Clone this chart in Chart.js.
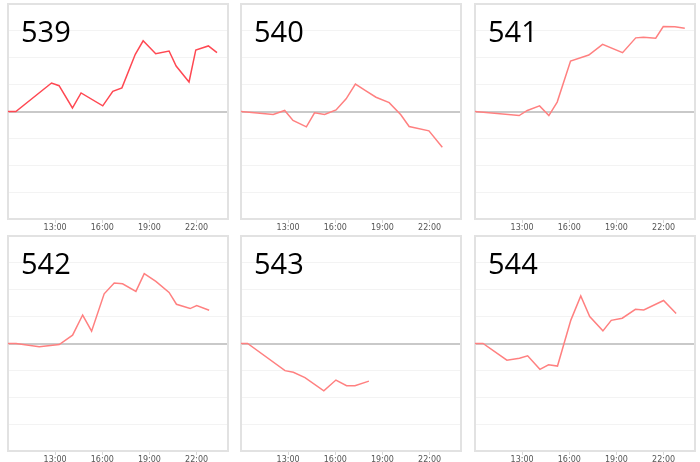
<!DOCTYPE html>
<html>
<head>
<meta charset="utf-8">
<script src="https://cdn.jsdelivr.net/npm/chart.js@4.4.0/dist/chart.umd.min.js"></script>
<style>
  body { margin: 0; background: #fff; width: 700px; height: 462px; position: relative; overflow: hidden; }
  .panel { position: absolute; width: 222px; height: 231px; }
  .label { position: absolute; font-family: "Open Sans", sans-serif; font-size: 29px; line-height: 1; color: #000; }
</style>
</head>
<body>
<script>
// x values are hours of the day, y values the change shown in each panel
const names = ['539', '540', '541', '542', '543', '544'];
const tickHours = [13, 16, 19, 22];

const hours539 = [10, 10.5, 12.77, 13.25, 14.1, 14.65, 16.03, 16.67, 17.25, 18.1, 18.6, 19.4, 20.25, 20.7, 21.52, 21.95, 22.75, 23.3];
const vals539  = [0, 0, 1.06, 0.96, 0.13, 0.69, 0.21, 0.75, 0.88, 2.13, 2.63, 2.15, 2.25, 1.69, 1.1, 2.29, 2.44, 2.19];

const hours540 = [10, 12.05, 12.78, 13.31, 14.16, 14.68, 15.32, 16.05, 16.69, 17.28, 17.95, 18.59, 19.43, 20.17, 20.7, 21.96, 22.81];
const vals540  = [0, -0.11, 0.04, -0.33, -0.57, -0.05, -0.11, 0.06, 0.47, 1.02, 0.77, 0.53, 0.33, -0.12, -0.56, -0.72, -1.33];

const hours541 = [10, 12.81, 13.33, 14.11, 14.7, 15.23, 16.08, 17.24, 18.12, 19.39, 20.23, 20.72, 21.5, 21.98, 22.72, 23.35];
const vals541  = [0, -0.15, 0.04, 0.21, -0.15, 0.35, 1.88, 2.1, 2.5, 2.19, 2.74, 2.76, 2.73, 3.16, 3.15, 3.1];

const hours542 = [10, 10.51, 11.99, 13.26, 14.11, 14.75, 15.32, 16.12, 16.76, 17.29, 18.14, 18.67, 19.41, 20.25, 20.72, 21.59, 22.01, 22.8];
const vals542  = [0, 0, -0.12, -0.04, 0.31, 1.06, 0.46, 1.85, 2.25, 2.22, 1.94, 2.6, 2.31, 1.9, 1.46, 1.3, 1.41, 1.24];

const hours543 = [10, 10.42, 12.8, 13.33, 14.07, 15.27, 16.04, 16.72, 17.25, 18.14];
const vals543  = [0, 0, -1.01, -1.07, -1.27, -1.76, -1.36, -1.57, -1.57, -1.4];

const hours544 = [10, 10.51, 12.03, 12.83, 13.35, 14.13, 14.68, 15.25, 16.1, 16.73, 17.3, 18.14, 18.67, 19.37, 20.21, 20.74, 22.0, 22.8];
const vals544  = [0, 0, -0.62, -0.55, -0.46, -0.96, -0.79, -0.84, 0.87, 1.77, 1.0, 0.47, 0.86, 0.94, 1.27, 1.25, 1.6, 1.12];

const allHours = [hours539, hours540, hours541, hours542, hours543, hours544];
const allVals = [vals539, vals540, vals541, vals542, vals543, vals544];
const colors = ['rgb(255,72,82)', 'rgb(255,128,128)', 'rgb(255,128,128)', 'rgb(255,128,128)', 'rgb(255,128,128)', 'rgb(255,128,128)'];

const colLeft = [7, 240, 474];
const rowTop = [3, 235];

// box around the plot area
const frame = {
  id: 'frame',
  beforeDatasetsDraw(chart) {
    const a = chart.chartArea;
    const c = chart.ctx;
    c.save();
    c.strokeStyle = '#e2e2e2';
    c.lineWidth = 2;
    c.strokeRect(a.left, a.top, a.right - a.left, a.bottom - a.top);
    c.restore();
  }
};

names.forEach((name, i) => {
  const left = colLeft[i % 3];
  const top = rowTop[Math.floor(i / 3)];
  const div = document.createElement('div');
  div.className = 'panel';
  div.style.left = left + 'px';
  div.style.top = top + 'px';
  const cv = document.createElement('canvas');
  div.appendChild(cv);
  document.body.appendChild(div);

  const lab = document.createElement('div');
  lab.className = 'label';
  lab.textContent = name;
  lab.style.left = (left + 14) + 'px';
  lab.style.top = (top + 13) + 'px';
  document.body.appendChild(lab);

  new Chart(cv, {
    type: 'line',
    data: {
      datasets: [{
        data: allHours[i].map((h, k) => ({ x: h, y: allVals[i][k] })),
        borderColor: colors[i],
        borderWidth: 1.5,
        pointRadius: 0,
        tension: 0,
        fill: false
      }]
    },
    plugins: [frame],
    options: {
      responsive: true,
      maintainAspectRatio: false,
      animation: false,
      layout: { padding: { left: 1, top: 1, right: 1, bottom: 0 } },
      plugins: { legend: { display: false }, tooltip: { enabled: false } },
      scales: {
        x: {
          type: 'linear',
          min: 10,
          max: 24,
          afterBuildTicks: s => { s.ticks = tickHours.map(v => ({ value: v })); },
          afterFit: s => { s.height = 15; },
          border: { display: false },
          grid: { drawOnChartArea: false, drawTicks: true, tickLength: 4, color: '#d8d8d8' },
          ticks: {
            padding: 0,
            maxRotation: 0,
            autoSkip: false,
            color: '#555',
            font: { family: 'DejaVu Sans', size: 8 },
            callback: v => v + ':00'
          }
        },
        y: {
          min: -4,
          max: 4,
          afterFit: s => { s.width = 0; },
          border: { display: false },
          ticks: { display: false, stepSize: 1 },
          grid: {
            drawTicks: false,
            color: c => c.tick.value === 0 ? '#c9c9c9' : '#f3f3f3',
            lineWidth: c => c.tick.value === 0 ? 2 : 1
          }
        }
      }
    }
  });
});
</script>
</body>
</html>
